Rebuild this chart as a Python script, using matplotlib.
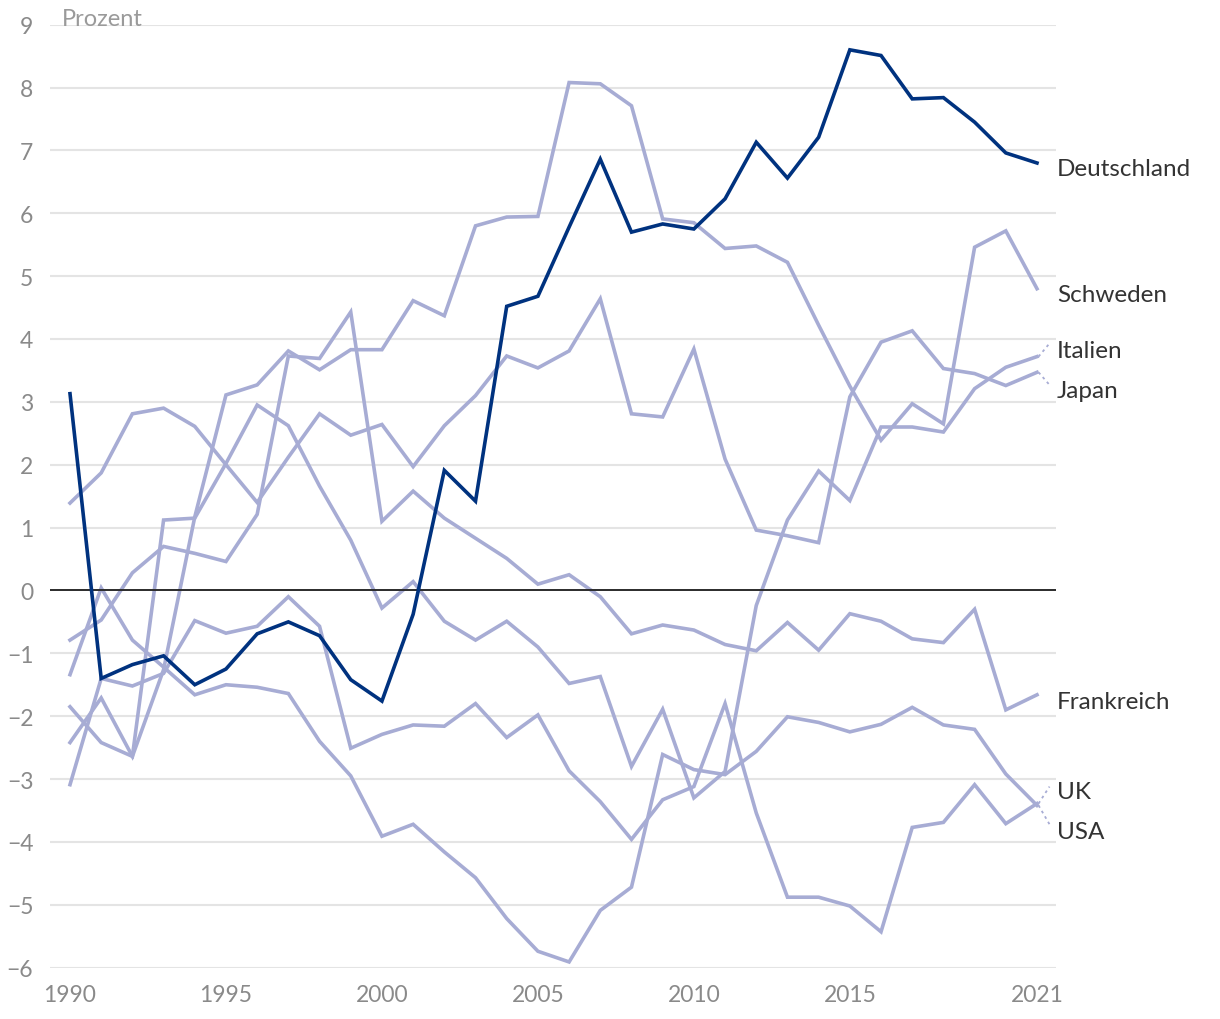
import matplotlib
matplotlib.use("Agg")
import matplotlib.pyplot as plt

plt.rcParams['font.family'] = ['Lato', 'DejaVu Sans']

years = list(range(1990, 2022))

deutschland = [3.13, -1.40, -1.18, -1.04, -1.50, -1.25, -0.69, -0.50, -0.72, -1.42,
               -1.76, -0.38, 1.91, 1.42, 4.52, 4.68, 5.78, 6.86, 5.70, 5.83,
               5.75, 6.23, 7.13, 6.56, 7.21, 8.60, 8.51, 7.82, 7.84, 7.45,
               6.96, 6.80]
schweden = [-2.42, -1.71, -2.64, -1.26, 1.17, 3.11, 3.27, 3.81, 3.51, 3.83,
            3.83, 4.61, 4.37, 5.80, 5.94, 5.95, 8.08, 8.06, 7.71, 5.91,
            5.85, 5.44, 5.48, 5.22, 4.22, 3.25, 2.39, 2.97, 2.65, 5.46,
            5.72, 4.80]
italien = [-1.85, -2.42, -2.64, 1.12, 1.15, 2.02, 2.95, 2.62, 1.66, 0.80,
           -0.28, 0.14, -0.49, -0.79, -0.49, -0.90, -1.48, -1.37, -2.80, -1.89,
           -3.30, -2.88, -0.24, 1.12, 1.90, 1.43, 2.60, 2.60, 2.52, 3.21,
           3.55, 3.72]
japan = [1.39, 1.87, 2.81, 2.90, 2.61, 2.00, 1.40, 2.12, 2.81, 2.47,
         2.64, 1.97, 2.62, 3.10, 3.73, 3.54, 3.81, 4.64, 2.81, 2.76,
         3.84, 2.09, 0.96, 0.87, 0.76, 3.08, 3.95, 4.13, 3.53, 3.45,
         3.26, 3.47]
frankreich = [-0.79, -0.47, 0.28, 0.70, 0.59, 0.46, 1.21, 3.73, 3.69, 4.43,
              1.10, 1.58, 1.15, 0.83, 0.51, 0.10, 0.25, -0.10, -0.69, -0.55,
              -0.63, -0.86, -0.96, -0.51, -0.95, -0.37, -0.49, -0.77, -0.83, -0.30,
              -1.90, -1.66]
uk = [-3.09, -1.40, -1.52, -1.32, -0.48, -0.68, -0.57, -0.10, -0.57, -2.51,
      -2.29, -2.14, -2.16, -1.80, -2.34, -1.98, -2.87, -3.36, -3.96, -3.33,
      -3.12, -1.80, -3.54, -4.88, -4.88, -5.02, -5.43, -3.77, -3.69, -3.09,
      -3.71, -3.39]
usa = [-1.34, 0.04, -0.79, -1.22, -1.66, -1.50, -1.54, -1.64, -2.40, -2.95,
       -3.91, -3.72, -4.16, -4.57, -5.22, -5.74, -5.91, -5.09, -4.72, -2.61,
       -2.85, -2.93, -2.56, -2.01, -2.10, -2.25, -2.13, -1.86, -2.14, -2.21,
       -2.92, -3.42]

names = ["Deutschland", "Schweden", "Italien", "Japan", "Frankreich", "UK", "USA"]
series = [deutschland, schweden, italien, japan, frankreich, uk, usa]

y_ticks = list(range(-6, 10))
x_ticks = [1990, 1995, 2000, 2005, 2010, 2015, 2021]

# label layout (vertical position of label text, in data units) and connector targets
label_y = {"Deutschland": 6.71, "Schweden": 4.70, "Italien": 3.82, "Japan": 3.18,
           "Frankreich": -1.77, "UK": -3.20, "USA": -3.83}
connector_y = {"Italien": 3.93, "Japan": 3.27, "UK": -3.12, "USA": -3.72}

DARK = "#00327f"
LIGHT = "#a7acd4"
GRID = "#e4e4e4"

W, H = 1220, 1020
fig = plt.figure(figsize=(W / 100, H / 100), dpi=100)
left, right, top, bottom = 50, 1056, 25.7, 968.6
ax = fig.add_axes([left / W, 1 - bottom / H, (right - left) / W, (bottom - top) / H])

ax.set_xlim(1990 - 20 / 31.19, 2021 + 19 / 31.19)
ax.set_ylim(-6, 9)

for v in y_ticks:
    if v != 0:
        ax.axhline(v, color=GRID, lw=1.5, zorder=0)
ax.axhline(0, color="#2b2b2b", lw=1.4, zorder=2)

for name, vals in zip(names, series):
    if name == "Deutschland":
        ax.plot(years, vals, color=DARK, lw=2.6, zorder=4, clip_on=False,
                solid_joinstyle="miter")
    else:
        ax.plot(years, vals, color=LIGHT, lw=2.6, zorder=1, clip_on=False,
                solid_joinstyle="miter")

x_end = years[-1]
x_text = x_end + 20 / 31.19
x_conn = x_end + 12.5 / 31.19
for name, vals in zip(names, series):
    ax.text(x_text, label_y[name], name, fontsize=17.5, color="#333333",
            va="center", ha="left", clip_on=False)
    if name in connector_y:
        ax.plot([x_end + 0.05, x_conn], [vals[-1], connector_y[name]],
                color=LIGHT, lw=1.3, ls=(0, (1.5, 2)), clip_on=False, zorder=1)

ax.set_yticks(y_ticks)
ax.set_yticklabels([("\u2212" + str(-v)) if v < 0 else str(v) for v in y_ticks])
ax.set_xticks(x_ticks)
ax.set_xticklabels([str(x) for x in x_ticks])
ax.tick_params(axis="both", length=0, labelsize=16.5, labelcolor="#8a8a8a")
ax.tick_params(axis="y", pad=12)
ax.tick_params(axis="x", pad=12)
for s in ax.spines.values():
    s.set_visible(False)
ax.grid(False)

fig.text(62 / W, 1 - 20 / H, "Prozent", fontsize=17, color="#9a9a9a",
         ha="left", va="center")

fig.savefig("out.png", dpi=100)
